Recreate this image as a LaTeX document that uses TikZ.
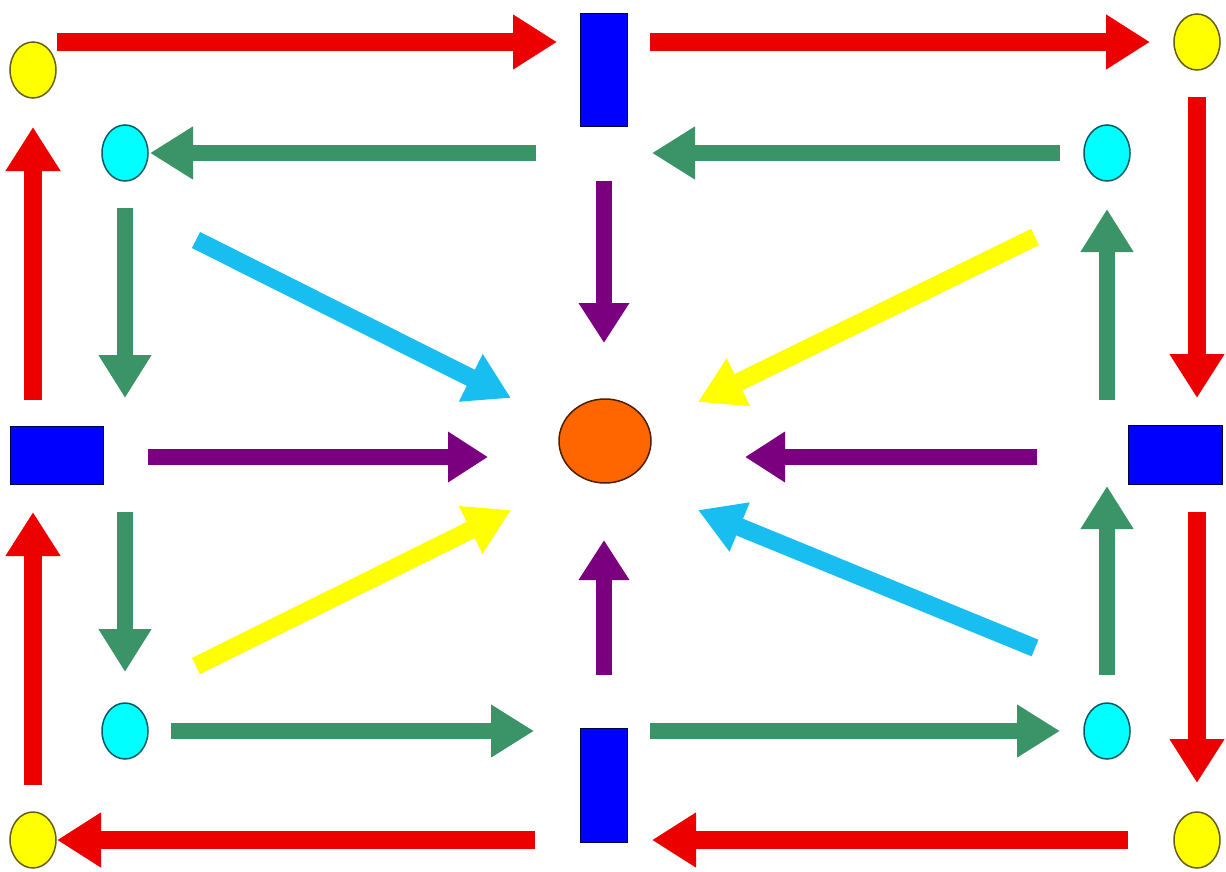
\documentclass[tikz,border=0pt]{standalone}
\usetikzlibrary{arrows.meta,shapes.geometric}
\definecolor{cRed}{RGB}{236,0,0}
\definecolor{cGreen}{RGB}{58,148,104}
\definecolor{cPurple}{RGB}{122,0,128}
\definecolor{cSky}{RGB}{25,190,240}
\definecolor{cYel}{RGB}{255,255,0}
\definecolor{cBlue}{RGB}{0,0,255}
\definecolor{cAqua}{RGB}{0,255,255}
\definecolor{cOrange}{RGB}{255,102,0}
\definecolor{cOlive}{RGB}{100,95,20}
\definecolor{cTeal}{RGB}{10,90,100}
\tikzset{
  yelnode/.style={ellipse,draw=cOlive,line width=1.5pt,fill=cYel,minimum width=46pt,minimum height=56pt,inner sep=0pt},
  aquanode/.style={ellipse,draw=cTeal,line width=1.5pt,fill=cAqua,minimum width=46pt,minimum height=56pt,inner sep=0pt},
  bluebox/.style={rectangle,draw=black!70!blue,line width=1pt,fill=cBlue,inner sep=0pt},
  centernode/.style={ellipse,draw=black!70!cOrange,line width=1.5pt,fill=cOrange,minimum width=92pt,minimum height=84pt,inner sep=0pt},
  redarrow/.style={draw=cRed,line width=18pt,-{Triangle[width=52pt,length=44pt]}},
  greenarrow/.style={draw=cGreen,line width=16pt,-{Triangle[width=50pt,length=43pt]}},
  purplearrow/.style={draw=cPurple,line width=16pt,-{Triangle[width=48pt,length=40pt]}},
  skyarrow/.style={draw=cSky,line width=18pt,-{Triangle[width=50pt,length=45pt]}},
  yelarrow/.style={draw=cYel,line width=18pt,-{Triangle[width=50pt,length=45pt]}},
}
\begin{document}
\begin{tikzpicture}[x=1pt,y=-1pt]
\useasboundingbox[fill=white] (0,0) rectangle (1226,872);
% nodes
\node[yelnode] (yTL) at (33,70) {};
\node[yelnode] (yTR) at (1197,42) {};
\node[yelnode] (yBL) at (33,840) {};
\node[yelnode] (yBR) at (1197,840) {};
\node[aquanode] (aTL) at (125,153) {};
\node[aquanode] (aTR) at (1107,153) {};
\node[aquanode] (aBL) at (125,731) {};
\node[aquanode] (aBR) at (1107,731) {};
\node[bluebox,minimum width=47pt,minimum height=113pt] (bT) at (603.5,70.5) {};
\node[bluebox,minimum width=47pt,minimum height=114pt] (bB) at (603.5,785) {};
\node[bluebox,minimum width=93pt,minimum height=58pt] (bL) at (56.5,455) {};
\node[bluebox,minimum width=94pt,minimum height=59pt] (bR) at (1175,454.5) {};
\node[centernode] (ctr) at (605,441) {};
% arrow end points
\coordinate (r1s) at (57,42);   \coordinate (r1e) at (557,42);
\coordinate (r2s) at (650,42);  \coordinate (r2e) at (1150,42);
\coordinate (r3s) at (1197,97); \coordinate (r3e) at (1197,398);
\coordinate (r4s) at (1197,512);\coordinate (r4e) at (1197,783);
\coordinate (r5s) at (1128,840);\coordinate (r5e) at (652,840);
\coordinate (r6s) at (535,840); \coordinate (r6e) at (57,840);
\coordinate (r7s) at (33,785);  \coordinate (r7e) at (33,512);
\coordinate (r8s) at (33,400);  \coordinate (r8e) at (33,127);
\coordinate (g1s) at (536,153); \coordinate (g1e) at (150,153);
\coordinate (g2s) at (1060,153);\coordinate (g2e) at (652,153);
\coordinate (g3s) at (125,208); \coordinate (g3e) at (125,398);
\coordinate (g4s) at (125,512); \coordinate (g4e) at (125,672);
\coordinate (g5s) at (171,731); \coordinate (g5e) at (534,731);
\coordinate (g6s) at (650,731); \coordinate (g6e) at (1060,731);
\coordinate (g7s) at (1107,675);\coordinate (g7e) at (1107,486);
\coordinate (g8s) at (1107,400);\coordinate (g8e) at (1107,209);
\coordinate (p1s) at (604,181); \coordinate (p1e) at (604,343);
\coordinate (p2s) at (148,457); \coordinate (p2e) at (488,457);
\coordinate (p3s) at (1037,457);\coordinate (p3e) at (745,457);
\coordinate (p4s) at (604,675); \coordinate (p4e) at (604,540);
\coordinate (s1s) at (196,240); \coordinate (s1e) at (511,398);
\coordinate (s2s) at (1035,648);\coordinate (s2e) at (698,510);
\coordinate (y1s) at (1035,237);\coordinate (y1e) at (698,402);
\coordinate (y2s) at (196,666); \coordinate (y2e) at (511,510);
% arrows
\foreach \a in {r1,r2,r3,r4,r5,r6,r7,r8} \draw[redarrow] (\a s) -- (\a e);
\foreach \a in {g1,g2,g3,g4,g5,g6,g7,g8} \draw[greenarrow] (\a s) -- (\a e);
\foreach \a in {p1,p2,p3,p4} \draw[purplearrow] (\a s) -- (\a e);
\foreach \a in {s1,s2} \draw[skyarrow] (\a s) -- (\a e);
\foreach \a in {y1,y2} \draw[yelarrow] (\a s) -- (\a e);
\end{tikzpicture}
\end{document}
